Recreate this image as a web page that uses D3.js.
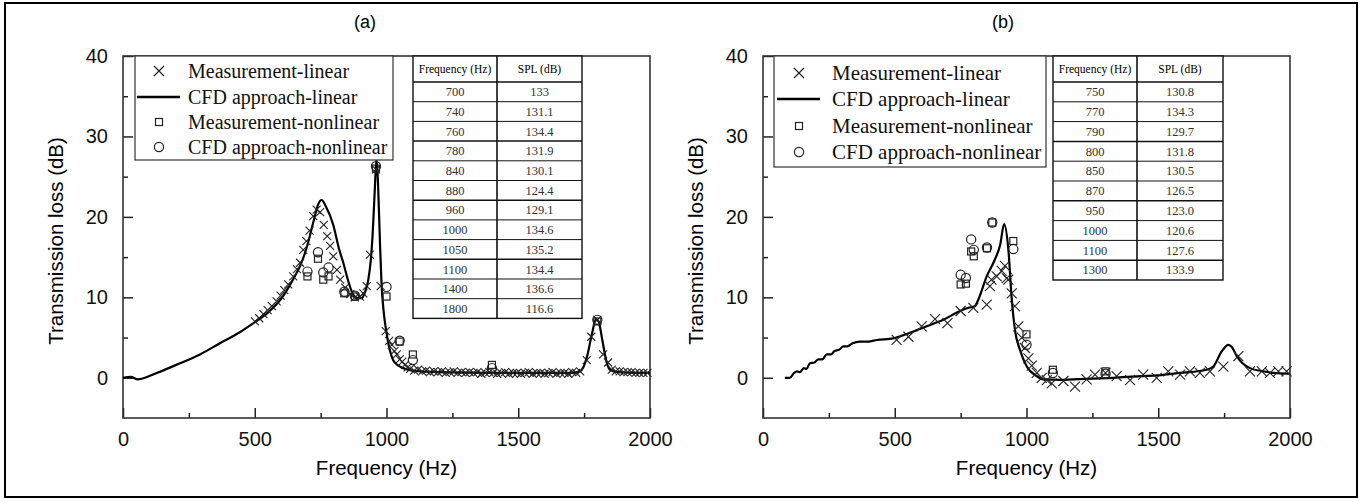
<!DOCTYPE html>
<html>
<head>
<meta charset="utf-8">
<script src="https://cdn.jsdelivr.net/npm/d3@7"></script>
<style>
body { margin: 0; background: #fff; }
</style>
</head>
<body>
<script>
// ---- data, panel (a) ----
var cfdLinearA = [[0,0],[30,0.1],[57,-0.2],[128,0.6],[216,1.8],[292,2.9],[368,4.3],[440,5.6],[495,6.8],[550,8.1],[600,9.8],
  [650,12.5],[672,13.9],[700,16.5],[722,19.3],[740,21.5],[754,22.1],[770,21.3],[798,19.0],[820,16.0],[836,14.3],[855,12.0],
  [874,10.3],[890,9.9],[906,9.9],[920,10.8],[931,12.2],[940,14.5],[947,17.6],[955,23.0],[962,27.2],[968,24.0],[975,17.0],
  [981,11.8],[990,8.0],[1000,5.6],[1012,3.5],[1025,2.2],[1045,1.5],[1063,1.2],[1100,0.9],[1200,0.7],[1400,0.6],[1600,0.6],
  [1700,0.6],[1734,0.8],[1760,2.5],[1780,5.5],[1795,7.3],[1805,7.0],[1820,4.5],[1835,2.0],[1848,1.0],[1880,0.7],[1950,0.6],[2000,0.6]];
var measLinearA = [[501,7.0],[517,7.4],[533,7.9],[549,8.4],[565,8.9],[583,9.5],[598,10.2],[612,10.9],[627,11.6],[646,12.6],
  [660,13.5],[672,14.3],[684,15.9],[696,17.0],[708,18.3],[722,20.1],[735,20.9],[748,20.6],[762,19.0],[775,17.6],[786,16.4],
  [798,15.1],[812,13.4],[824,12.2],[843,11.2],[862,10.4],[880,10.0],[899,10.1],[912,10.5],[925,11.4],[937,15.3],[960,25.9],
  [978,11.4],[997,5.8],[1010,4.6],[1020,4.1],[1030,3.3],[1039,2.9],[1050,2.3],[1060,2.0],[1070,1.6],[1080,1.3],
  [1090,1.1],[1105,0.9],[1120,1.0],[1135,0.8],[1150,0.9],[1165,0.7],[1180,0.8],[1195,0.7],[1210,0.8],[1225,0.6],[1240,0.7],
  [1255,0.8],[1270,0.6],[1285,0.7],[1300,0.6],[1315,0.7],[1330,0.6],[1345,0.7],[1360,0.5],[1375,0.6],[1390,0.7],[1405,0.6],
  [1420,0.5],[1435,0.6],[1450,0.7],[1465,0.5],[1480,0.6],[1495,0.6],[1510,0.5],[1525,0.6],[1540,0.7],[1555,0.5],[1570,0.6],
  [1585,0.6],[1600,0.5],[1615,0.6],[1630,0.7],[1645,0.5],[1660,0.6],[1675,0.6],[1690,0.5],[1705,0.7],[1720,0.6],[1735,0.8],
  [1760,2.2],[1777,5.1],[1800,7.2],[1822,2.9],[1841,1.9],[1855,1.0],[1870,0.8],[1885,0.8],[1900,0.7],[1915,0.7],[1930,0.7],
  [1945,0.6],[1960,0.6],[1975,0.6],[1990,0.6]];
var tableFreqA = ["700","740","760","780","840","880","960","1000","1050","1100","1400","1800"];
var tableSplA = ["133","131.1","134.4","131.9","130.1","124.4","129.1","134.6","135.2","134.4","136.6","116.6"];
var measNonlinA = [12.6,14.8,12.2,12.6,10.5,10.1,26.0,10.1,4.5,2.9,1.6,7.0];
var cfdNonlinA = [13.2,15.6,13.1,13.7,10.7,10.2,26.3,11.3,4.6,2.2,1.2,7.2];

// ---- data, panel (b) ----
var cfdLinearB = [[83,0],[102,0],[118,0.6],[128,0.8],[140,0.7],[155,1.2],[165,1.1],[178,1.8],[195,1.9],[210,2.3],[225,2.3],
  [242,2.9],[258,2.9],[270,3.3],[290,3.5],[305,3.9],[320,3.9],[340,4.3],[368,4.5],[400,4.5],[432,4.7],[494,4.9],[558,5.6],
  [621,6.4],[684,7.2],[748,8.3],[780,8.7],[804,8.9],[817,9.7],[849,12.6],[880,14.7],[900,16.5],[915,19.1],[931,16.0],
  [944,9.8],[956,6.0],[975,3.5],[1001,1.4],[1039,0.2],[1063,-0.2],[1127,-0.25],[1241,-0.1],[1330,0.0],[1431,0.2],[1500,0.3],
  [1583,0.6],[1684,1.0],[1709,1.4],[1741,3.3],[1766,4.1],[1780,3.8],[1798,2.7],[1820,1.8],[1848,1.2],[1900,0.8],[1936,0.6],
  [1993,0.5],[2000,0.5]];
var measLinearB = [[507,4.7],[552,5.1],[602,6.4],[653,7.3],[700,6.8],[750,8.3],[798,8.7],[849,9.1],[861,11.4],[867,12.2],
  [887,12.6],[906,13.3],[918,13.9],[925,12.4],[931,12.2],[944,10.5],[956,8.9],[969,6.4],[982,5.0],[994,3.7],[1007,2.4],
  [1020,1.5],[1039,0.6],[1058,0.0],[1077,-0.3],[1096,-0.7],[1140,-0.4],[1184,-1.1],[1228,-0.2],[1260,0.4],[1300,0.6],
  [1342,0.2],[1393,-0.3],[1443,0.4],[1494,0.0],[1538,0.8],[1583,0.4],[1620,0.8],[1658,0.6],[1696,0.8],[1747,1.4],
  [1804,2.7],[1848,0.8],[1893,0.8],[1924,0.6],[1956,0.8],[1987,0.8]];
var tableFreqB = ["750","770","790","800","850","870","950","1000","1100","1300"];
var tableSplB = ["130.8","134.3","129.7","131.8","130.5","126.5","123.0","120.6","127.6","133.9"];
var measNonlinB = [11.6,11.7,15.7,15.1,16.1,19.3,17.0,5.4,1.0,0.8];
var cfdNonlinB = [12.8,12.4,17.2,15.9,16.2,19.3,16.0,4.1,0.6,0.5];

var legendLabels = ["Measurement-linear","CFD approach-linear","Measurement-nonlinear","CFD approach-nonlinear"];
var xMajor = [0,500,1000,1500,2000], xMinor = [250,750,1250,1750];
var yMajor = [0,10,20,30,40], yMinor = [5,15,25,35];

var W = 1364, H = 501;
var svg = d3.select("body").append("svg").attr("width", W).attr("height", H);

svg.append("rect").attr("x", 5).attr("y", 3).attr("width", 1352).attr("height", 494)
  .attr("fill", "none").attr("stroke", "#000").attr("stroke-width", 2);

function crossPath(s) { return "M" + (-s) + "," + (-s) + "L" + s + "," + s + "M" + (-s) + "," + s + "L" + s + "," + (-s); }

function drawPanel(p) {
  var x = d3.scaleLinear().domain([0, 2000]).range([p.left, p.right]);
  var y = d3.scaleLinear().domain([-5, 40]).range([418, 56]);
  var g = svg.append("g");

  // minor + major ticks, inward
  g.append("g").attr("transform", "translate(0,418)")
    .call(d3.axisBottom(x).tickValues(xMinor).tickSize(-5).tickFormat(""));
  g.append("g").attr("transform", "translate(0,418)")
    .call(d3.axisBottom(x).tickValues(xMajor).tickSize(-10).tickPadding(14).tickFormat(d3.format("d")));
  g.append("g").attr("transform", "translate(" + p.left + ",0)")
    .call(d3.axisLeft(y).tickValues(yMinor).tickSize(-5).tickFormat(""));
  g.append("g").attr("transform", "translate(" + p.left + ",0)")
    .call(d3.axisLeft(y).tickValues(yMajor).tickSize(-10).tickPadding(15).tickFormat(d3.format("d")));
  g.selectAll(".domain").remove();
  g.selectAll(".tick line").attr("stroke", "#222").attr("stroke-width", 1.5);
  g.selectAll(".tick text").attr("font-family", "Liberation Sans, Arial, sans-serif")
    .attr("font-size", 20).attr("fill", "#111");

  g.append("rect").attr("x", p.left).attr("y", 56).attr("width", p.right - p.left).attr("height", 362)
    .attr("fill", "none").attr("stroke", "#333").attr("stroke-width", 1.6);

  // titles
  g.append("text").attr("x", (p.left + p.right) / 2).attr("y", 475).attr("text-anchor", "middle")
    .attr("font-family", "Liberation Sans, Arial, sans-serif").attr("font-size", 20.5).text("Frequency (Hz)");
  g.append("text").attr("transform", "translate(" + (p.left - 60) + ",241) rotate(-90)").attr("text-anchor", "middle")
    .attr("font-family", "Liberation Sans, Arial, sans-serif").attr("font-size", 20.5).text("Transmission loss (dB)");
  g.append("text").attr("x", p.titleX).attr("y", 28).attr("text-anchor", "middle")
    .attr("font-family", "Liberation Sans, Arial, sans-serif").attr("font-size", 18).text(p.title);

  // data
  var line = d3.line().x(function(d) { return x(d[0]); }).y(function(d) { return y(d[1]); }).curve(d3.curveMonotoneX);
  g.append("path").datum(p.cfd).attr("d", line).attr("fill", "none").attr("stroke", "#000").attr("stroke-width", 2.2);

  g.selectAll(".mx").data(p.meas).enter().append("path")
    .attr("transform", function(d) { return "translate(" + x(d[0]) + "," + y(d[1]) + ")"; })
    .attr("d", crossPath(p.xs)).attr("stroke", "#222").attr("stroke-width", 1.1).attr("fill", "none");

  var tf = p.tableFreq.map(Number);
  g.selectAll(".sq").data(p.measNon).enter().append("rect")
    .attr("x", function(d, i) { return x(tf[i]) - 3.5; }).attr("y", function(d) { return y(d) - 3.5; })
    .attr("width", 7).attr("height", 7).attr("fill", "none").attr("stroke", "#222").attr("stroke-width", 1.2);
  g.selectAll(".ci").data(p.cfdNon).enter().append("circle")
    .attr("cx", function(d, i) { return x(tf[i]); }).attr("cy", function(d) { return y(d); }).attr("r", 4.6)
    .attr("fill", "none").attr("stroke", "#222").attr("stroke-width", 1.2);

  // legend
  var L = p.legend;
  g.append("rect").attr("x", L.x0).attr("y", 56).attr("width", L.x1 - L.x0).attr("height", L.y1 - 56)
    .attr("fill", "#fff").attr("stroke", "#333").attr("stroke-width", 1.2);
  legendLabels.forEach(function(lab, i) {
    var ry = L.rows[i];
    if (i === 0) g.append("path").attr("transform", "translate(" + L.mx + "," + ry + ")").attr("d", crossPath(5))
      .attr("stroke", "#222").attr("stroke-width", 1.2);
    if (i === 1) g.append("line").attr("x1", L.lx0).attr("x2", L.lx1).attr("y1", ry).attr("y2", ry)
      .attr("stroke", "#000").attr("stroke-width", 2.4);
    if (i === 2) g.append("rect").attr("x", L.mx - 3.5).attr("y", ry - 3.5).attr("width", 7).attr("height", 7)
      .attr("fill", "none").attr("stroke", "#222").attr("stroke-width", 1.2);
    if (i === 3) g.append("circle").attr("cx", L.mx).attr("cy", ry).attr("r", 4.6)
      .attr("fill", "none").attr("stroke", "#222").attr("stroke-width", 1.2);
    g.append("text").attr("x", L.tx).attr("y", ry).attr("dy", "0.35em")
      .attr("font-family", "Liberation Serif, Times New Roman, serif").attr("font-size", L.fs).attr("fill", "#111").text(lab);
  });

  // table
  var T = p.table, n = p.tableFreq.length;
  var bottom = T.hb + n * T.rh;
  var tg = g.append("g");
  tg.append("rect").attr("x", T.x0).attr("y", 56).attr("width", T.x1 - T.x0).attr("height", bottom - 56)
    .attr("fill", "#fff").attr("stroke", "#111").attr("stroke-width", 1.4);
  tg.append("line").attr("x1", T.xm).attr("x2", T.xm).attr("y1", 56).attr("y2", bottom)
    .attr("stroke", "#111").attr("stroke-width", 1.6);
  for (var i = 0; i < n; i++) {
    var yy = T.hb + i * T.rh;
    tg.append("line").attr("x1", T.x0).attr("x2", T.x1).attr("y1", yy).attr("y2", yy)
      .attr("stroke", "#111").attr("stroke-width", (i % 3 === 0) ? 1.5 : 1);
    tg.append("text").attr("x", (T.x0 + T.xm) / 2).attr("y", yy + T.rh / 2).attr("dy", "0.35em")
      .attr("text-anchor", "middle").attr("font-family", "Liberation Serif, serif").attr("font-size", 12.5)
      .attr("fill", "#333").text(p.tableFreq[i]);
    tg.append("text").attr("x", (T.xm + T.x1) / 2).attr("y", yy + T.rh / 2).attr("dy", "0.35em")
      .attr("text-anchor", "middle").attr("font-family", "Liberation Serif, serif").attr("font-size", 12.5)
      .attr("fill", "#333").text(p.tableSpl[i]);
  }
  tg.append("text").attr("x", (T.x0 + T.xm) / 2).attr("y", 69).attr("dy", "0.35em").attr("text-anchor", "middle")
    .attr("font-family", "Liberation Serif, serif").attr("font-size", 11.5).text("Frequency (Hz)");
  tg.append("text").attr("x", (T.xm + T.x1) / 2).attr("y", 69).attr("dy", "0.35em").attr("text-anchor", "middle")
    .attr("font-family", "Liberation Serif, serif").attr("font-size", 11.5).text("SPL (dB)");
}

drawPanel({
  left: 123, right: 650, title: "(a)", titleX: 365, xs: 4,
  cfd: cfdLinearA, meas: measLinearA, tableFreq: tableFreqA, tableSpl: tableSplA,
  measNon: measNonlinA, cfdNon: cfdNonlinA,
  legend: { x0: 135, x1: 393, y1: 160, rows: [71, 97, 122, 147], mx: 159, lx0: 137, lx1: 180, tx: 188, fs: 20 },
  table: { x0: 413, xm: 497, x1: 582, hb: 82, rh: 19.7 }
});
drawPanel({
  left: 763, right: 1290, title: "(b)", titleX: 1003, xs: 5,
  cfd: cfdLinearB, meas: measLinearB, tableFreq: tableFreqB, tableSpl: tableSplB,
  measNon: measNonlinB, cfdNon: cfdNonlinB,
  legend: { x0: 774, x1: 1046, y1: 167, rows: [73, 99, 126, 152], mx: 799, lx0: 777, lx1: 820, tx: 832, fs: 21 },
  table: { x0: 1053, xm: 1137, x1: 1223, hb: 82, rh: 19.8 }
});
</script>
</body>
</html>
